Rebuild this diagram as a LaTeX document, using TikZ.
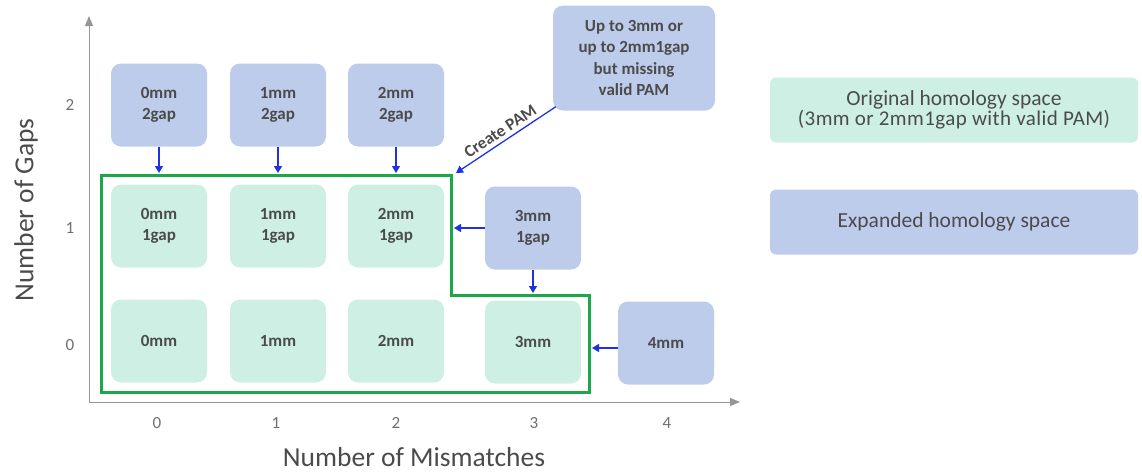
\documentclass[tikz,border=0pt]{standalone}
\usepackage{fontspec}
\setmainfont{Carlito}
\usetikzlibrary{arrows.meta}
\definecolor{mint}{RGB}{206,240,228}
\definecolor{bluebox}{RGB}{190,204,235}
\definecolor{grn}{RGB}{28,168,72}
\definecolor{arr}{RGB}{30,50,225}
\definecolor{txt}{RGB}{75,75,75}
\definecolor{axisc}{RGB}{150,150,150}
\begin{document}
\begin{tikzpicture}[x=1pt,y=-1pt,
  cell/.style={rounded corners=10pt, minimum width=96pt, minimum height=83pt, align=center,
    font=\bfseries\fontsize{17}{21.5}\selectfont, text=txt, inner sep=0pt},
  orig/.style={cell, fill=mint},
  expd/.style={cell, fill=bluebox},
  legbox/.style={rounded corners=6pt, minimum width=368pt, minimum height=65pt, align=center, text=txt, inner sep=0pt},
  flow/.style={-{Triangle[length=7pt,width=8pt]}, arr, line width=1.3pt},
  axisline/.style={-{Triangle[length=10pt,width=8pt]}, axisc, line width=1pt},
  tick/.style={font=\fontsize{17}{19}\selectfont, text=txt!80},
  atitle/.style={font=\fontsize{27.5}{30}\selectfont, text=txt}
]
\useasboundingbox (0,0) rectangle (1142,474);
% axes
\coordinate (origin) at (89,402);
\coordinate (ytip) at (89,16);
\coordinate (xtip) at (740,402);
\draw[axisline] (origin) -- (ytip);
\draw[axisline] (origin) -- (xtip);
% outline
\draw[grn, line width=3pt] (101,175) -- (451,175) -- (451,295) -- (589,295) -- (589,392) -- (101,392) -- cycle;
\coordinate (otop) at (0,173);
\coordinate (oright) at (454,0);
\coordinate (ostep) at (0,293);
\coordinate (ostepr) at (592,0);
\coordinate (pamtip) at (456,173);
% cells
\node[expd] (b02) at (159,105) {0mm\\2gap};
\node[expd] (b12) at (278,105) {1mm\\2gap};
\node[expd] (b22) at (396,105) {2mm\\2gap};
\node[orig] (g01) at (159,226) {0mm\\1gap};
\node[orig] (g11) at (278,226) {1mm\\1gap};
\node[orig] (g21) at (396,226) {2mm\\1gap};
\node[expd] (b31) at (533,228) {3mm\\1gap};
\node[orig] (g00) at (159,341) {0mm};
\node[orig] (g10) at (278,341) {1mm};
\node[orig] (g20) at (396,341) {2mm};
\node[orig] (g30) at (533,342) {3mm};
\node[expd] (b40) at (666,343) {4mm};
\node[expd, minimum width=162pt, minimum height=105pt] (pam) at (634,58) {Up to 3mm or\\up to 2mm1gap\\but missing\\valid PAM};
% connectors
\draw[flow] (b02.south) -- (b02.south |- otop);
\draw[flow] (b12.south) -- (b12.south |- otop);
\draw[flow] (b22.south) -- (b22.south |- otop);
\draw[flow] (b31.west) -- (b31.west -| oright);
\draw[flow] (b31.south) -- (b31.south |- ostep);
\draw[flow] ([yshift=-5pt]b40.west) -- ([yshift=-5pt]b40.west -| ostepr);
\draw[flow] ([xshift=3pt,yshift=4pt]pam.south west) -- node[midway, sloped, above=4pt, inner sep=0pt, font=\bfseries\fontsize{17}{19}\selectfont, text=txt] {Create PAM} (pamtip);
% ticks
\node[tick] (x0) at (157,423) {0};
\node[tick] (x1) at (276,423) {1};
\node[tick] (x2) at (396,423) {2};
\node[tick] (x3) at (534,423) {3};
\node[tick] (x4) at (667,423) {4};
\node[tick] (y2) at (70,105) {2};
\node[tick] (y1) at (70,228) {1};
\node[tick] (y0) at (70,345) {0};
\node[atitle] (xt) at (414,457) {Number of Mismatches};
\node[atitle, rotate=90] (yt) at (26,210) {Number of Gaps};
% legend
\node[legbox, fill=mint] (leg1) at (954,110) {{\fontsize{21.5}{19}\selectfont Original homology space}\\{\fontsize{21}{19}\selectfont\addfontfeature{LetterSpace=2}(3mm or 2mm1gap with valid PAM)}};
\node[legbox, fill=bluebox] (leg2) at (954,222) {\fontsize{21.5}{24}\selectfont Expanded homology space};
\end{tikzpicture}
\end{document}
